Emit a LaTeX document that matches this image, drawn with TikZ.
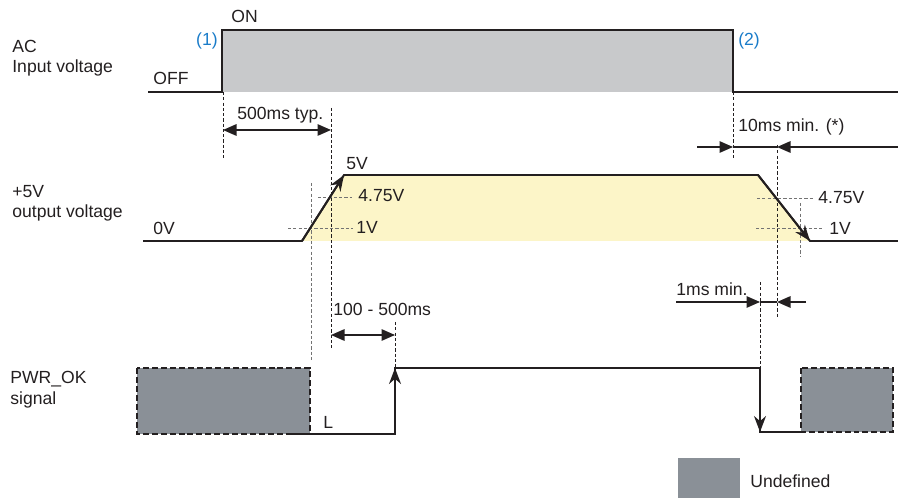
\documentclass[tikz,border=0pt]{standalone}
\usepackage{fontspec}
\setmainfont{Liberation Sans}
\usepackage{xcolor}
\usetikzlibrary{arrows.meta,calc}
\definecolor{acgray}{HTML}{C8C9CB}
\definecolor{undefgray}{HTML}{8A9097}
\definecolor{okyellow}{HTML}{FCF5C8}
\definecolor{refblue}{HTML}{1A7CC9}
\definecolor{inkblack}{HTML}{231F20}

\begin{document}
\begin{tikzpicture}[x=0.02cm, y=-0.02cm, font=\fontsize{10}{12}\selectfont,
		lbl/.style={anchor=base west, inner sep=0pt, text=inkblack},
		wave/.style={draw=inkblack, line width=1.1pt},
		guide/.style={draw=inkblack, line width=0.45pt, dash pattern=on 1.8pt off 1.2pt},
		level/.style={draw=black!55, line width=0.55pt, dash pattern=on 1.8pt off 1.2pt},
		dim/.style={draw=inkblack, line width=0.8pt, -{Triangle[length=2.7mm,width=2.3mm]}},
		undef/.style={fill=undefgray, draw=inkblack, line width=1pt, dash pattern=on 3.4pt off 1.7pt}]
		\useasboundingbox (0,0) rectangle (898,499);
		% signal names
		\node[lbl] (acname) at (12,53) {AC};
		\node[lbl] (acsub) at (12,73) {Input voltage};
		\node[lbl] (vname) at (12,198) {+5V};
		\node[lbl] (vsub) at (12,218) {output voltage};
		\node[lbl] (okname) at (10,383) {PWR\_OK};
		\node[lbl] (oksub) at (10,404) {signal};
		% AC input: OFF -> ON (1) -> OFF (2)
		\fill[acgray] (222,30) rectangle (733,92);
		\draw[wave] (148,92) -- (222,92) -- (222,30) -- (733,30) -- (733,92) -- (898,92);
		\node[lbl] (on) at (231,23) {ON};
		\node[lbl] (off) at (153,85) {OFF};
		\node[lbl, anchor=base east, text=refblue] (ev1) at (218,46) {(1)};
		\node[lbl, text=refblue] (ev2) at (738,46) {(2)};
		% +5V output ramp up / ramp down
		\fill[okyellow] (302,241) -- (344,175) -- (758,175) -- (810,241) -- cycle;
		\draw[level] (318,197) -- (352,197);
		\draw[level] (288,228) -- (353,228);
		\draw[level] (757,198) -- (813,198);
		\draw[level] (756,228) -- (822,228);
		\draw[level] (311,183) -- (311,362);
		\draw[level] (800,203) -- (800,256);
		\draw[wave] (143,241) -- (302,241) -- (344,175) -- (758,175) -- (810,241) -- (898,241);
		\draw[wave, -{Stealth[length=3.2mm,width=2.4mm]}] (302,241) -- (344,175);
		\draw[wave, -{Stealth[length=3.2mm,width=2.4mm]}] (758,175) -- (810,241);
		\node[lbl] (v5) at (346,170) {5V};
		\node[lbl] (v0) at (153,235) {0V};
		\node[lbl] (vhiL) at (358,202) {4.75V};
		\node[lbl] (vloL) at (356,234) {1V};
		\node[lbl] (vhiR) at (818,204) {4.75V};
		\node[lbl] (vloR) at (829,235) {1V};
		% PWR_OK
		\draw[undef] (137,368) rectangle (310,434);
		\draw[undef] (801,368) rectangle (893,432);
		\draw[wave] (290,434) -- (395,434) -- (395,368) -- (760,368) -- (760,432) -- (801,432);
		\draw[wave, -{Stealth[length=3.2mm,width=2.4mm]}] (395,434) -- (395,368);
		\draw[wave, -{Stealth[length=3.2mm,width=2.4mm]}] (760,368) -- (760,432);
		\node[lbl] (low) at (323,428) {L};
		% timing guides
		\draw[guide] (223,92) -- (223,160);
		\draw[guide] (331,108) -- (331,350);
		\draw[guide] (395,322) -- (395,368);
		\draw[guide] (733,92) -- (733,160);
		\draw[guide] (777,145) -- (777,317);
		\draw[guide] (760,282) -- (760,368);
		% 500ms typ.
		\coordinate (t1a) at (223,130);
		\coordinate (t1b) at (331,130);
		\draw[dim, {Triangle[length=2.7mm,width=2.3mm]}-{Triangle[length=2.7mm,width=2.3mm]}] (t1a) -- (t1b);
		\node[lbl] (t1) at (237,120) {500ms typ.};
		% 100 - 500ms
		\coordinate (t2a) at (331,335);
		\coordinate (t2b) at (395,335);
		\draw[dim, {Triangle[length=2.7mm,width=2.3mm]}-{Triangle[length=2.7mm,width=2.3mm]}] (t2a) -- (t2b);
		\node[lbl] (t2) at (333,316) {100 - 500ms};
		% 10ms min. (*)
		\coordinate (t3o) at (697,147);
		\coordinate (t3a) at (733,147);
		\coordinate (t3b) at (777,147);
		\coordinate (t3p) at (898,147);
		\draw[dim] (t3o) -- (t3a);
		\draw[dim] (t3p) -- (t3b);
		\draw[inkblack, line width=0.6pt] (t3a) -- (t3b);
		\node[lbl] (t3) at (738,132) {10ms min. (*)};
		% 1ms min.
		\coordinate (t4o) at (676,302);
		\coordinate (t4a) at (760,302);
		\coordinate (t4b) at (777,302);
		\coordinate (t4p) at (806,302);
		\draw[dim] (t4o) -- (t4a);
		\draw[dim] (t4p) -- (t4b);
		\draw[inkblack, line width=0.6pt] (t4a) -- (t4b);
		\node[lbl] (t4) at (676,296) {1ms min.};
		% legend
		\fill[undefgray] (678,458) rectangle (740,498);
		\node[lbl] (legend) at (750,487) {Undefined};
	\end{tikzpicture}
\end{document}
